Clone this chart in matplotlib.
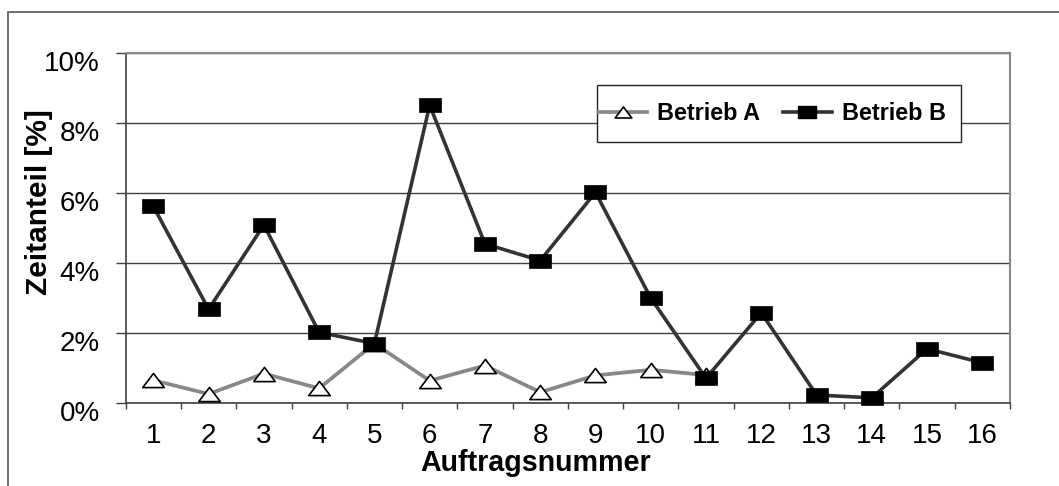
import matplotlib
matplotlib.use("Agg")
import matplotlib.pyplot as plt
from matplotlib.path import Path
from matplotlib.lines import Line2D
from matplotlib.patches import Rectangle
from matplotlib.transforms import ScaledTranslation

plt.rcParams['font.family'] = ['Liberation Sans', 'DejaVu Sans']

# ---- data ----
auftraege_a = [1, 2, 3, 4, 5, 6, 7, 8, 9, 10, 11]
betrieb_a = [0.64, 0.25, 0.83, 0.41, 1.69, 0.63, 1.06, 0.30, 0.78, 0.94, 0.79]
auftraege_b = [1, 2, 3, 4, 5, 6, 7, 8, 9, 10, 11, 12, 13, 14, 15, 16]
betrieb_b = [5.61, 2.67, 5.08, 2.01, 1.69, 8.50, 4.54, 4.06, 6.01, 2.99, 0.70,
             2.57, 0.22, 0.14, 1.54, 1.14]
x_ticks = list(range(1, 17))
y_ticks = [0, 2, 4, 6, 8, 10]
y_ticklabels = ["0%", "2%", "4%", "6%", "8%", "10%"]
label_a = "Betrieb A"
label_b = "Betrieb B"
xlabel = "Auftragsnummer"
ylabel = "Zeitanteil [%]"

W, H = 1059, 486
fig = plt.figure(figsize=(W / 100, H / 100), dpi=100)

# outer chart border (extends past right/bottom edge)
fig.patches.append(Rectangle((8.3 / W, -0.1), 1.2, 1 - 11.7 / H + 0.1,
                             transform=fig.transFigure, fill=False,
                             edgecolor='#555555', linewidth=1.2, zorder=0))

ax_l, ax_t, ax_r, ax_b = 125.7, 52.7, 1010.0, 402.7
ax = fig.add_axes([ax_l / W, 1 - ax_b / H, (ax_r - ax_l) / W, (ax_b - ax_t) / H])

# custom (wide) markers
rect = Path([(-1, -0.66), (1, -0.66), (1, 0.66), (-1, 0.66), (-1, -0.66)],
            [Path.MOVETO, Path.LINETO, Path.LINETO, Path.LINETO, Path.CLOSEPOLY])
tri = Path([(0, 0.66), (-1, -0.66), (1, -0.66), (0, 0.66)],
           [Path.MOVETO, Path.LINETO, Path.LINETO, Path.CLOSEPOLY])

ax.plot(auftraege_a, betrieb_a, color='#888888', linewidth=2.7,
        marker=tri, markersize=15.5, markerfacecolor='white',
        markeredgecolor='black', markeredgewidth=1.2, zorder=3, clip_on=False)
ax.plot(auftraege_b, betrieb_b, color='#333333', linewidth=2.6,
        marker=rect, markersize=16, markerfacecolor='black',
        markeredgecolor='black', markeredgewidth=0.5, zorder=4, clip_on=False)

ax.set_xlim(0.5, 16.5)
ax.set_ylim(0, 10)

# grid
ax.set_yticks(y_ticks)
ax.set_yticklabels(y_ticklabels)
ax.yaxis.grid(True, color='#404040', linewidth=1.0)
ax.set_axisbelow(True)

# spines
for s in ['left', 'bottom']:
    ax.spines[s].set_color('#404040')
    ax.spines[s].set_linewidth(1.2)
for s in ['top', 'right']:
    ax.spines[s].set_color('#888888')
    ax.spines[s].set_linewidth(1.5)

# x ticks
ax.set_xticks(x_ticks)
ax.set_xticklabels([str(v) for v in x_ticks])
ax.set_xticks([v - 0.5 for v in x_ticks] + [16.5], minor=True)
ax.tick_params(axis='x', which='major', length=0, pad=14.5, labelsize=20,
               labelcolor='black')
ax.tick_params(axis='x', which='minor', length=4, width=1.0, color='#404040',
               direction='out')
ax.tick_params(axis='y', which='major', length=7.2, width=1.0, color='#404040',
               direction='out', pad=11.3, labelsize=20)

# y tick labels sit lower than their gridlines
off = ScaledTranslation(0, -8.5 / 100, fig.dpi_scale_trans)
for lab in ax.get_yticklabels():
    lab.set_transform(lab.get_transform() + off)

ax.set_xlabel(xlabel, fontsize=20.6, fontweight='bold')
ax.xaxis.set_label_coords((536 - ax_l) / (ax_r - ax_l), (ax_b - 448.6) / (ax_b - ax_t))
ax.set_ylabel(ylabel, fontsize=21.5, fontweight='bold')
ax.yaxis.set_label_coords((53.0 - ax_l) / (ax_r - ax_l), (ax_b - 202.5) / (ax_b - ax_t))

# legend frame (drawn manually for exact size)
ax.add_patch(Rectangle((596.7 / W, 1 - 141.7 / H), (961 - 596.7) / W, (141.7 - 85) / H,
                       transform=fig.transFigure, facecolor='white',
                       edgecolor='#222222', linewidth=1.0, zorder=4.5,
                       clip_on=False))

h_a = Line2D([], [], color='#888888', linewidth=2.7, marker=tri, markersize=12,
             markerfacecolor='white', markeredgecolor='black', markeredgewidth=1.2)
h_b = Line2D([], [], color='#333333', linewidth=2.6, marker=rect, markersize=12.5,
             markerfacecolor='black', markeredgecolor='black')
leg = ax.legend([h_a, h_b], [label_a, label_b], ncol=2,
                loc='center left',
                bbox_to_anchor=(599 / W, 1 - 113.4 / H),
                bbox_transform=fig.transFigure,
                prop={'size': 16.8, 'weight': 'bold'},
                frameon=False, borderaxespad=0,
                borderpad=0, handlelength=2.06, handletextpad=0.43,
                columnspacing=1.0)
leg.set_zorder(5)

fig.savefig("out.png", dpi=100)
